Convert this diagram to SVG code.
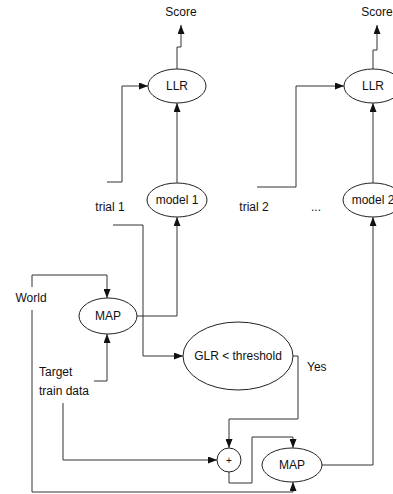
<svg xmlns="http://www.w3.org/2000/svg" width="393" height="494" viewBox="0 0 393 494">
<style>
.n{fill:#fff;stroke:#222;stroke-width:1}
.t{font-family:"Liberation Sans",Arial,sans-serif;font-size:12px;fill:#111}
.m{text-anchor:middle}
.c{fill:none;stroke:#333;stroke-width:1}
</style>
<defs>
<marker id="a" markerWidth="9" markerHeight="7" refX="9" refY="3.5" orient="auto" markerUnits="userSpaceOnUse">
<path d="M0,0 L9,3.5 L0,7 z" fill="#111"/>
</marker>
</defs>
<rect width="393" height="494" fill="#fff"/>
<g id="connectors">
<path class="c" d="M177,69 V47 H181 V25" marker-end="url(#a)"/>
<path class="c" d="M373,69 V50 H377 V25" marker-end="url(#a)"/>
<path class="c" d="M107,182 H122 V86 H148" marker-end="url(#a)"/>
<path class="c" d="M257,187 H296 V86 H344" marker-end="url(#a)"/>
<path class="c" d="M177,183 V103" marker-end="url(#a)"/>
<path class="c" d="M373,183 V103" marker-end="url(#a)"/>
<path class="c" d="M137,316 H177 V217" marker-end="url(#a)"/>
<path class="c" d="M322,465 H373 V217" marker-end="url(#a)"/>
<path class="c" d="M113,225 H143 V356 H183" marker-end="url(#a)"/>
<path class="c" d="M32,287 V275 H107 V298" marker-end="url(#a)"/>
<path class="c" d="M32,310 V492 H293 V482" marker-end="url(#a)"/>
<path class="c" d="M94,381 H107 V334" marker-end="url(#a)"/>
<path class="c" d="M63,403 V460 H217" marker-end="url(#a)"/>
<path class="c" d="M293,356 H298 V419 H229 V448" marker-end="url(#a)"/>
<path class="c" d="M229,472 V483 H252 V437 H293 V448" marker-end="url(#a)"/>
</g>
<g id="score1"><text class="t m" x="181" y="16">Score</text></g>
<g id="score2"><text class="t m" x="377" y="16">Score</text></g>
<g id="llr1"><ellipse class="n" cx="177" cy="86" rx="29" ry="17"/><text class="t m" x="177" y="90">LLR</text></g>
<g id="llr2"><ellipse class="n" cx="373" cy="86" rx="29" ry="17"/><text class="t m" x="373" y="90">LLR</text></g>
<g id="model1"><ellipse class="n" cx="177" cy="200" rx="30" ry="17"/><text class="t m" x="177" y="204">model 1</text></g>
<g id="model2"><ellipse class="n" cx="373" cy="200" rx="30" ry="17"/><text class="t m" x="373" y="204">model 2</text></g>
<g id="trial1"><text class="t m" x="110" y="211">trial 1</text></g>
<g id="trial2"><text class="t m" x="254" y="211">trial 2</text></g>
<g id="dots"><text class="t m" x="316" y="211">...</text></g>
<g id="world"><text class="t m" x="31" y="302">World</text></g>
<g id="map1"><ellipse class="n" cx="108" cy="316" rx="29" ry="18"/><text class="t m" x="108" y="320">MAP</text></g>
<g id="target"><text class="t" x="39" y="376">Target</text><text class="t" x="39" y="395">train data</text></g>
<g id="glr"><ellipse class="n" cx="238" cy="356" rx="55" ry="34"/><text class="t m" x="238" y="360">GLR &lt; threshold</text></g>
<g id="yes"><text class="t" x="307" y="371">Yes</text></g>
<g id="plus"><circle class="n" cx="229" cy="460" r="12"/><text class="t m" x="229" y="464" style="font-size:10px">+</text></g>
<g id="map2"><ellipse class="n" cx="292" cy="465" rx="30" ry="17"/><text class="t m" x="292" y="469">MAP</text></g>
</svg>
